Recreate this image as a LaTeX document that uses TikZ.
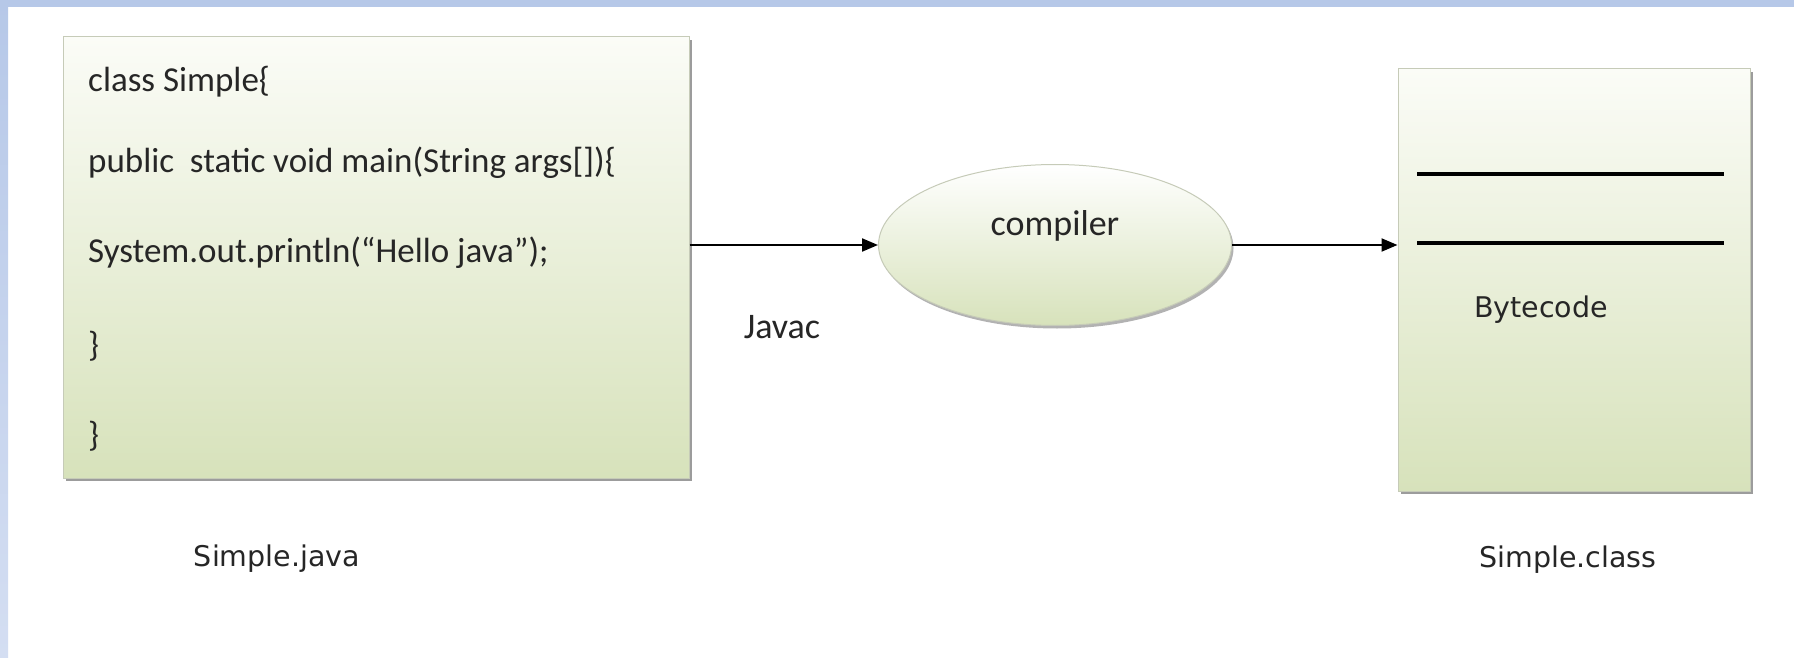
\documentclass[tikz,border=0pt]{standalone}
\usepackage{fontspec}
\usetikzlibrary{arrows.meta,shapes.geometric,shadows}
\newfontfamily\calib{Carlito}
\newfontfamily\verd{DejaVu Sans}
\definecolor{frameblue}{HTML}{B6C8E8}
\definecolor{framelight}{HTML}{D4DEF2}
\definecolor{panelgreen}{HTML}{D7E2BB}
\definecolor{panelmid}{HTML}{E9EFDA}
\definecolor{paneltop}{HTML}{FBFCF7}
\definecolor{panelrim}{HTML}{C6CBB8}
\tikzset{
  panel/.style={draw=panelrim, line width=1pt, rectangle, inner sep=0pt,
    top color=paneltop, middle color=panelmid, bottom color=panelgreen,
    drop shadow={shadow xshift=2.5pt, shadow yshift=-3pt, fill=black!55, opacity=0.7}},
  oval/.style={draw=panelrim, line width=1pt, ellipse, inner sep=0pt,
    top color=white, middle color=panelmid, bottom color=panelgreen,
    drop shadow={shadow xshift=2pt, shadow yshift=-3pt, fill=black!50, opacity=0.6}},
  code/.style={font=\calib\fontsize{35}{35}\selectfont, text=black!85, anchor=base west, inner sep=0pt},
  tag/.style={font=\calib\fontsize{36}{36}\selectfont, text=black!85, anchor=base, inner sep=0pt},
  caption/.style={font=\verd\fontsize{28.5}{28.5}\selectfont, text=black!85, anchor=base, inner sep=0pt},
  flow/.style={line width=2pt, -{Triangle[length=16pt,width=13pt]}},
  rule/.style={line width=4pt}
}
\begin{document}
\begin{tikzpicture}[x=1pt,y=-1pt]
\useasboundingbox (0,0) rectangle (1794,658);
\fill[white] (0,0) rectangle (1794,658);
% slide frame along the top and left edges
\shade[top color=frameblue, bottom color=framelight] (0,0) rectangle (8,658);
\fill[frameblue] (0,0) rectangle (1794,7);

% source file panel
\node[panel, minimum width=626pt, minimum height=441pt] (src) at (376,257.5) {};
\node[code] (l1) at (88,92)  {class Simple\{};
\node[code] (l2) at (88,172) {public\ \ static void main(String args[])\{};
\node[code] (l3) at (88,262) {System.out.println(“Hello java”);};
\node[code] (l4) at (88,356) {\}};
\node[code] (l5) at (88,446) {\}};
\node[caption] (srcname) at (277,566.5) {Simple.java};

% compiler
\node[oval, minimum width=353pt, minimum height=161pt] (comp) at (1055,245) {};
\node[tag] (compname) at ([yshift=10pt]comp.center) {compiler};
\node[tag] (javac) at (782,338) {Javac};

% class file panel
\node[panel, minimum width=352pt, minimum height=422pt] (cls) at (1574,280) {};
\draw[rule] (1417,174) -- (1724,174);
\draw[rule] (1417,243) -- (1724,243);
\node[caption] (bytes) at (1541,317) {Bytecode};
\node[caption] (clsname) at (1568,567) {Simple.class};

% connectors
\draw[flow] (src.east |- comp.west) -- (comp.west);
\draw[flow] (comp.east) -- (comp.east -| cls.west);
\end{tikzpicture}
\end{document}
